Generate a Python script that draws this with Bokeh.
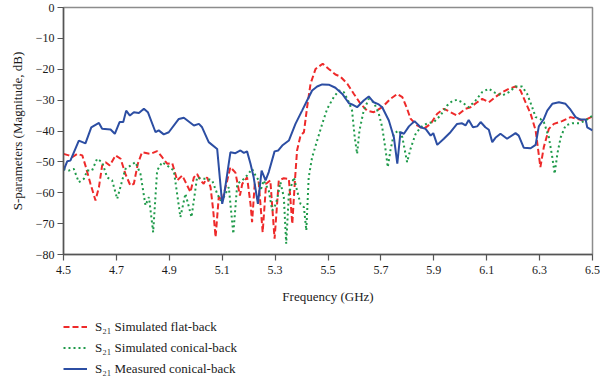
from bokeh.plotting import figure
from bokeh.layouts import column
from bokeh.models import Range1d, FixedTicker, CustomJSTickFormatter, Legend, LegendItem
from bokeh.embed import file_html
from bokeh.resources import INLINE

# ---- data ----
meas_f = [4.500, 4.514, 4.526, 4.558, 4.583, 4.605, 4.634, 4.646, 4.678, 4.694, 4.712, 4.726,
          4.737, 4.751, 4.766, 4.785, 4.804, 4.819, 4.848, 4.860, 4.879, 4.898, 4.936, 4.955,
          4.993, 5.012, 5.024, 5.049, 5.081, 5.100, 5.106, 5.131, 5.150, 5.169, 5.182, 5.194,
          5.207, 5.219, 5.235, 5.249, 5.264, 5.276, 5.298, 5.312, 5.327, 5.352, 5.377, 5.402,
          5.421, 5.440, 5.459, 5.478, 5.503, 5.528, 5.554, 5.579, 5.591, 5.610, 5.635, 5.654,
          5.673, 5.692, 5.705, 5.730, 5.749, 5.762, 5.774, 5.787, 5.806, 5.827, 5.850, 5.869,
          5.888, 5.898, 5.913, 5.938, 5.963, 5.988, 6.007, 6.020, 6.032, 6.048, 6.064, 6.077,
          6.095, 6.108, 6.121, 6.133, 6.152, 6.177, 6.209, 6.221, 6.240, 6.266, 6.285, 6.297,
          6.316, 6.329, 6.348, 6.373, 6.398, 6.417, 6.436, 6.455, 6.474, 6.480, 6.500]
meas_db = [-52.8, -49.8, -49.6, -43.1, -44.0, -38.8, -37.4, -39.3, -39.5, -40.9, -37.1, -37.1,
           -33.4, -35.0, -33.9, -34.2, -32.8, -33.9, -40.4, -39.8, -41.1, -40.4, -36.1, -35.7,
           -38.2, -37.7, -38.8, -43.6, -45.8, -63.6, -61.4, -46.9, -47.2, -46.3, -47.1, -46.6,
           -50.6, -55.0, -63.6, -52.8, -56.0, -53.3, -46.6, -46.3, -44.7, -43.1, -37.7, -33.4,
           -30.1, -26.9, -25.6, -24.9, -25.0, -26.0, -28.0, -31.0, -31.4, -32.3, -30.1, -28.8,
           -30.7, -31.4, -32.3, -36.6, -42.0, -50.6, -40.4, -40.9, -38.5, -36.8, -38.8, -39.3,
           -41.5, -40.7, -44.5, -42.5, -40.4, -37.7, -37.5, -38.2, -36.4, -38.8, -38.5, -37.1,
           -38.8, -39.6, -43.6, -42.2, -40.9, -42.5, -40.7, -41.5, -45.4, -45.6, -44.5, -38.5,
           -36.1, -33.4, -31.2, -30.7, -31.2, -33.1, -35.5, -36.3, -36.3, -38.8, -39.8]

flat_f = [4.500, 4.520, 4.533, 4.552, 4.571, 4.583, 4.602, 4.621, 4.634, 4.646, 4.659, 4.675,
          4.697, 4.716, 4.734, 4.753, 4.766, 4.781, 4.797, 4.829, 4.854, 4.873, 4.892, 4.911,
          4.930, 4.949, 4.968, 4.980, 4.993, 5.005, 5.018, 5.030, 5.043, 5.056, 5.066, 5.075,
          5.087, 5.100, 5.119, 5.131, 5.150, 5.157, 5.167, 5.176, 5.194, 5.207, 5.213, 5.223,
          5.238, 5.253, 5.266, 5.282, 5.298, 5.314, 5.333, 5.352, 5.365, 5.375, 5.383, 5.396,
          5.409, 5.421, 5.434, 5.453, 5.480, 5.503, 5.528, 5.547, 5.573, 5.598, 5.623, 5.648,
          5.673, 5.705, 5.736, 5.762, 5.781, 5.799, 5.812, 5.837, 5.862, 5.888, 5.913, 5.938,
          5.963, 5.988, 6.020, 6.039, 6.064, 6.083, 6.108, 6.133, 6.159, 6.184, 6.209, 6.228,
          6.247, 6.266, 6.285, 6.303, 6.316, 6.335, 6.354, 6.385, 6.417, 6.442, 6.467, 6.500]
flat_db = [-47.4, -47.9, -48.5, -47.4, -47.9, -51.2, -57.1, -62.5, -58.2, -51.2, -50.1, -51.2,
           -47.9, -49.0, -53.9, -57.7, -57.1, -50.6, -46.9, -47.4, -46.5, -48.5, -50.6, -50.4,
           -56.0, -54.4, -57.7, -59.8, -55.0, -53.9, -56.0, -57.1, -55.0, -58.2, -65.7, -74.4,
           -61.4, -62.5, -56.0, -51.7, -53.5, -56.6, -60.9, -57.1, -55.0, -63.6, -69.5, -57.1,
           -56.6, -72.8, -57.1, -56.0, -74.9, -56.0, -55.3, -55.5, -70.1, -56.0, -46.3, -41.5,
           -40.4, -32.3, -24.7, -19.9, -18.2, -19.9, -21.7, -22.4, -24.7, -28.0, -31.2, -33.4,
           -33.9, -32.3, -29.6, -28.0, -29.0, -32.8, -36.0, -38.2, -39.3, -37.7, -34.4, -32.8,
           -33.9, -35.0, -32.8, -32.3, -30.7, -29.6, -30.7, -29.0, -27.4, -26.3, -25.6, -26.9,
           -30.7, -34.4, -39.8, -51.7, -45.2, -39.3, -37.7, -36.8, -35.5, -36.1, -36.6, -35.3]

con_f = [4.500, 4.520, 4.539, 4.558, 4.577, 4.590, 4.608, 4.627, 4.646, 4.665, 4.684, 4.703,
         4.722, 4.734, 4.753, 4.772, 4.791, 4.810, 4.823, 4.839, 4.854, 4.873, 4.892, 4.917,
         4.942, 4.961, 4.984, 5.005, 5.024, 5.043, 5.062, 5.081, 5.094, 5.106, 5.125, 5.142,
         5.157, 5.176, 5.194, 5.213, 5.226, 5.238, 5.245, 5.257, 5.276, 5.289, 5.298, 5.308,
         5.320, 5.333, 5.342, 5.352, 5.371, 5.383, 5.396, 5.409, 5.418, 5.427, 5.440, 5.459,
         5.478, 5.497, 5.522, 5.541, 5.560, 5.579, 5.591, 5.601, 5.610, 5.619, 5.635, 5.654,
         5.673, 5.692, 5.705, 5.718, 5.726, 5.736, 5.749, 5.768, 5.781, 5.799, 5.812, 5.831,
         5.850, 5.875, 5.900, 5.925, 5.951, 5.970, 5.988, 6.007, 6.032, 6.058, 6.083, 6.108,
         6.133, 6.159, 6.184, 6.209, 6.234, 6.253, 6.272, 6.285, 6.303, 6.316, 6.335, 6.348,
         6.357, 6.367, 6.380, 6.398, 6.424, 6.449, 6.474, 6.500]
con_db = [-52.3, -52.8, -52.3, -56.6, -55.5, -52.8, -52.8, -49.0, -50.1, -55.0, -56.0, -62.0,
          -56.0, -52.3, -51.2, -50.1, -53.9, -64.1, -61.4, -72.8, -52.8, -50.1, -51.2, -52.8,
          -67.9, -60.3, -67.9, -55.0, -55.5, -55.5, -56.0, -60.3, -62.5, -61.4, -58.2, -73.3,
          -57.1, -56.0, -54.4, -52.3, -54.4, -56.0, -59.3, -56.0, -59.3, -65.7, -64.7, -62.0,
          -56.6, -61.4, -76.5, -60.3, -55.0, -59.3, -63.6, -64.7, -72.2, -55.0, -48.5, -43.1,
          -37.7, -32.8, -29.0, -26.9, -27.4, -30.7, -33.4, -42.0, -47.4, -39.8, -33.4, -29.6,
          -30.7, -34.4, -38.8, -46.3, -51.7, -46.3, -40.9, -39.8, -42.0, -50.1, -45.8, -41.0,
          -38.8, -37.5, -37.1, -35.0, -31.7, -30.3, -29.9, -30.7, -32.3, -30.1, -27.4, -26.3,
          -27.7, -28.5, -27.4, -25.6, -25.6, -28.0, -32.3, -35.5, -36.1, -37.1, -42.0, -48.5,
          -53.9, -47.4, -42.0, -38.2, -37.5, -37.5, -36.6, -35.0]

x_ticks = [4.5, 4.7, 4.9, 5.1, 5.3, 5.5, 5.7, 5.9, 6.1, 6.3, 6.5]
y_ticks = [-80, -70, -60, -50, -40, -30, -20, -10, 0]
labels = ["S\u2082\u2081 Simulated flat-back",
          "S\u2082\u2081 Simulated conical-back",
          "S\u2082\u2081 Measured conical-back"]

FONT = "Liberation Serif"
RED, GREEN, BLUE = "#ee2a2a", "#1f9a4a", "#2c4ea3"

# ---- main plot ----
p = figure(width=600, height=310, output_backend="svg", toolbar_location=None,
           x_range=Range1d(4.5, 6.5), y_range=Range1d(-80, 0),
           min_border_left=63, min_border_right=8, min_border_top=7, min_border_bottom=56)

p.line(flat_f, flat_db, line_color=RED, line_width=2, line_dash="6 3")
p.line(con_f, con_db, line_color=GREEN, line_width=2, line_dash="2 3")
p.line(meas_f, meas_db, line_color=BLUE, line_width=2)

p.grid.visible = False
p.outline_line_color = "#8c8c8c"
p.outline_line_width = 1.5

for ax in (p.xaxis[0], p.yaxis[0]):
    ax.axis_line_color = "#555555"
    ax.axis_line_width = 1.5
    ax.major_tick_line_color = "#555555"
    ax.major_tick_line_width = 1.2
    ax.major_tick_in = 0
    ax.major_tick_out = 6
    ax.minor_tick_line_color = None
    ax.major_label_text_font = FONT
    ax.major_label_text_font_size = "12px"
    ax.major_label_text_color = "#1a1a1a"
    ax.axis_label_text_font = FONT
    ax.axis_label_text_font_size = "13px"
    ax.axis_label_text_font_style = "normal"
    ax.axis_label_text_color = "#1a1a1a"

p.xaxis[0].ticker = FixedTicker(ticks=x_ticks)
p.yaxis[0].ticker = FixedTicker(ticks=y_ticks)
p.xaxis[0].formatter = CustomJSTickFormatter(code="return tick.toFixed(1);")
p.yaxis[0].formatter = CustomJSTickFormatter(
    code="return tick < 0 ? '\u2212' + Math.abs(tick) : String(tick);")
p.xaxis[0].axis_label = "Frequency (GHz)"
p.yaxis[0].axis_label = "S-parameters (Magnitude, dB)"
p.xaxis[0].major_label_standoff = 5
p.yaxis[0].major_label_standoff = 3
p.xaxis[0].axis_label_standoff = 12
p.yaxis[0].axis_label_standoff = 8

# ---- legend strip below the plot (keys drawn by the legend only) ----
q = figure(width=600, height=70, output_backend="svg", toolbar_location=None,
           x_range=Range1d(0, 1), y_range=Range1d(0, 1),
           x_axis_type=None, y_axis_type=None,
           min_border_left=0, min_border_right=0, min_border_top=0, min_border_bottom=0)
q.grid.visible = False
q.outline_line_color = None
nan = float("nan")
l_flat = q.line(x=[nan], y=[nan], line_color=RED, line_width=2, line_dash="6 3")
l_con = q.line(x=[nan], y=[nan], line_color=GREEN, line_width=2, line_dash="2 3")
l_meas = q.line(x=[nan], y=[nan], line_color=BLUE, line_width=2)

legend = Legend(items=[LegendItem(label=labels[0], renderers=[l_flat]),
                       LegendItem(label=labels[1], renderers=[l_con]),
                       LegendItem(label=labels[2], renderers=[l_meas])],
                location=(0, 1), orientation="vertical")
legend.border_line_color = None
legend.background_fill_alpha = 0
legend.padding = 0
legend.margin = 0
legend.spacing = 0
legend.glyph_width = 24
legend.glyph_height = 21
legend.label_height = 21
legend.label_standoff = 8
legend.label_text_font = FONT
legend.label_text_font_size = "13px"
legend.label_text_color = "#1a1a1a"
q.add_layout(legend, "center")

layout = column(p, q, spacing=0)
open("out.html", "w").write(file_html(layout, INLINE))
